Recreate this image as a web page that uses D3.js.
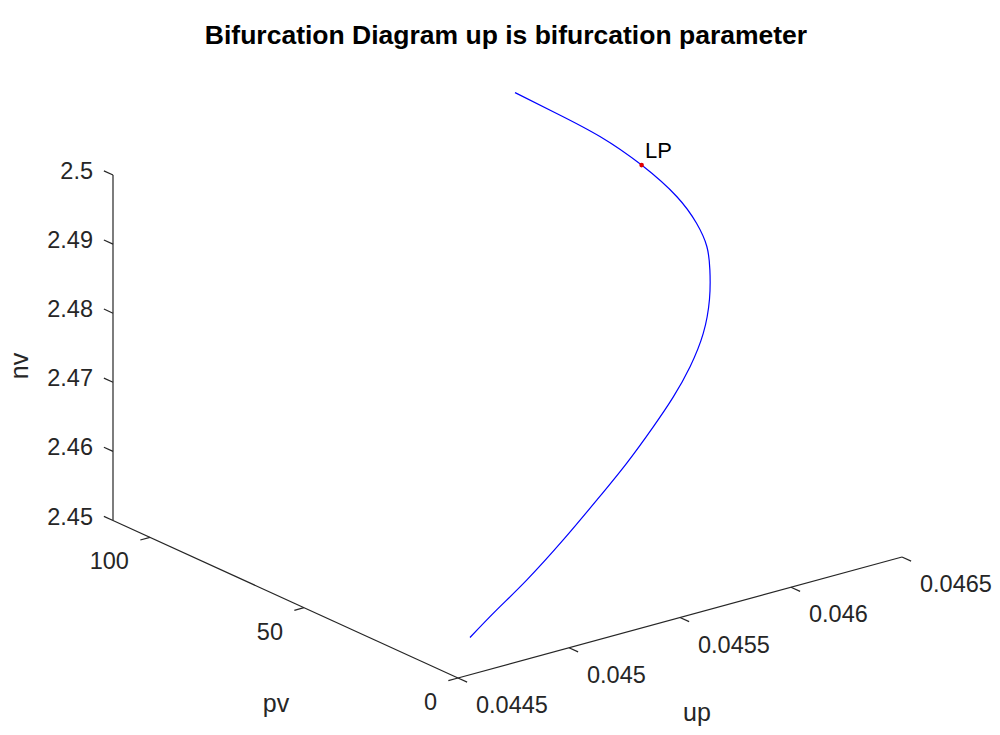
<!DOCTYPE html>
<html>
<head>
<meta charset="utf-8">
<script src="https://cdn.jsdelivr.net/npm/d3@7"></script>
<style>
  html, body { margin: 0; padding: 0; background: #fff; }
  svg { display: block; }
  text { font-family: "Liberation Sans", Arial, Helvetica, sans-serif; }
</style>
</head>
<body>
<svg id="chart" width="1000" height="735"></svg>
<script>
// ---- data ----
const titleText = "Bifurcation Diagram up is bifurcation parameter";
const upTicks = [0.0445, 0.045, 0.0455, 0.046, 0.0465];
const upTickLabels = ["0.0445", "0.045", "0.0455", "0.046", "0.0465"];
const pvTicks = [0, 50, 100];
const pvTickLabels = ["0", "50", "100"];
const nvTicks = [2.45, 2.46, 2.47, 2.48, 2.49, 2.5];
const nvTickLabels = ["2.45", "2.46", "2.47", "2.48", "2.49", "2.5"];
const upLimits = [0.0445, 0.0465];
const pvLimits = [0, 112];
const nvLimits = [2.45, 2.5];

// equilibrium curve (bottom end -> top end)
const upValues = [0.04460, 0.04478, 0.044974, 0.04521, 0.045424, 0.045606, 0.045768, 0.045888,
  0.045996, 0.046102, 0.046192, 0.046264, 0.046314, 0.046364, 0.046416, 0.04646,
  0.046434, 0.046354, 0.04622];
const pvValues = [3.32, 7.62, 11.87, 17.02, 21.5, 24.98, 28.0, 30.13, 32.48, 35.84, 40.3,
  45.36, 49.95, 56.9, 67.09, 81.65, 93.3, 101.58, 105.45];
const nvValues = [2.45431, 2.45585, 2.4576, 2.4603, 2.4633, 2.4663, 2.46955, 2.4724, 2.47535,
  2.47855, 2.4818, 2.48435, 2.4864, 2.4879, 2.48925, 2.49045, 2.49245, 2.4948, 2.4982];

// special point (limit point)
const lpLabel = "LP";
const lpUp = [0.04646];
const lpPv = [81.65];
const lpNv = [2.49045];

// ---- 3D projection built from d3 scales ----
const origin = [458, 678];     // screen position of (up min, pv min, nv min)
const upVec = [444, -121];     // screen vector spanning the up range
const pvVec = [-345, -157.5];  // screen vector spanning the pv range
const nvVec = [0, -345.5];     // screen vector spanning the nv range

const su = d3.scaleLinear().domain(upLimits).range([0, 1]);
const sp = d3.scaleLinear().domain(pvLimits).range([0, 1]);
const sn = d3.scaleLinear().domain(nvLimits).range([0, 1]);

function proj(u, p, n) {
  const a = su(u), b = sp(p), c = sn(n);
  return [origin[0] + a * upVec[0] + b * pvVec[0] + c * nvVec[0],
          origin[1] + a * upVec[1] + b * pvVec[1] + c * nvVec[1]];
}
function unit(v) { const l = Math.hypot(v[0], v[1]); return [v[0] / l, v[1] / l]; }

const svg = d3.select("#chart");
const axisColor = "#262626";
const tickLen = 10;
const tickFont = "23.5px";

const g = svg.append("g");

// axis lines
const axLines = [
  [proj(upLimits[0], pvLimits[0], nvLimits[0]), proj(upLimits[1], pvLimits[0], nvLimits[0])],
  [proj(upLimits[0], pvLimits[0], nvLimits[0]), proj(upLimits[0], pvLimits[1], nvLimits[0])],
  [proj(upLimits[0], pvLimits[1], nvLimits[0]), proj(upLimits[0], pvLimits[1], nvLimits[1])]
];
g.selectAll("line.axis").data(axLines).join("line")
  .attr("class", "axis")
  .attr("x1", d => d[0][0]).attr("y1", d => d[0][1])
  .attr("x2", d => d[1][0]).attr("y2", d => d[1][1])
  .attr("stroke", axisColor).attr("stroke-width", 1.2);

// up axis ticks (pointing away along -pv)
const pvDir = unit(pvVec), upDir = unit(upVec);
const upTickData = upTicks.map((t, i) => ({ p: proj(t, pvLimits[0], nvLimits[0]), label: upTickLabels[i] }));
g.selectAll("line.uptick").data(upTickData).join("line")
  .attr("x1", d => d.p[0]).attr("y1", d => d.p[1])
  .attr("x2", d => d.p[0] - pvDir[0] * tickLen).attr("y2", d => d.p[1] - pvDir[1] * tickLen)
  .attr("stroke", axisColor).attr("stroke-width", 1.2);
g.selectAll("text.uplab").data(upTickData).join("text")
  .attr("x", d => d.p[0] + 18).attr("y", d => d.p[1] + 27)
  .attr("text-anchor", "start").attr("dominant-baseline", "central")
  .attr("font-size", tickFont).attr("fill", axisColor)
  .text(d => d.label);

// pv axis ticks (pointing away along -up)
const pvTickData = pvTicks.map((t, i) => ({ p: proj(upLimits[0], t, nvLimits[0]), label: pvTickLabels[i] }));
g.selectAll("line.pvtick").data(pvTickData).join("line")
  .attr("x1", d => d.p[0]).attr("y1", d => d.p[1])
  .attr("x2", d => d.p[0] - upDir[0] * tickLen).attr("y2", d => d.p[1] - upDir[1] * tickLen)
  .attr("stroke", axisColor).attr("stroke-width", 1.2);
g.selectAll("text.pvlab").data(pvTickData).join("text")
  .attr("x", d => d.p[0] - 21).attr("y", d => d.p[1] + 24)
  .attr("text-anchor", "end").attr("dominant-baseline", "central")
  .attr("font-size", tickFont).attr("fill", axisColor)
  .text(d => d.label);

// nv axis ticks (pointing along +pv)
const nvTickData = nvTicks.map((t, i) => ({ p: proj(upLimits[0], pvLimits[1], t), label: nvTickLabels[i] }));
g.selectAll("line.nvtick").data(nvTickData).join("line")
  .attr("x1", d => d.p[0]).attr("y1", d => d.p[1])
  .attr("x2", d => d.p[0] + pvDir[0] * tickLen).attr("y2", d => d.p[1] + pvDir[1] * tickLen)
  .attr("stroke", axisColor).attr("stroke-width", 1.2);
g.selectAll("text.nvlab").data(nvTickData).join("text")
  .attr("x", d => d.p[0] - 20).attr("y", d => d.p[1] - 4)
  .attr("text-anchor", "end").attr("dominant-baseline", "central")
  .attr("font-size", tickFont).attr("fill", axisColor)
  .text(d => d.label);

// axis labels
g.append("text").attr("x", 276).attr("y", 703)
  .attr("text-anchor", "middle").attr("dominant-baseline", "central")
  .attr("font-size", "25px").attr("fill", axisColor).text("pv");
g.append("text").attr("x", 697).attr("y", 712)
  .attr("text-anchor", "middle").attr("dominant-baseline", "central")
  .attr("font-size", "25px").attr("fill", axisColor).text("up");
g.append("text").attr("transform", "translate(19,366) rotate(-90)")
  .attr("text-anchor", "middle").attr("dominant-baseline", "central")
  .attr("font-size", "25px").attr("fill", axisColor).text("nv");

// title
svg.append("text").attr("x", 506).attr("y", 35)
  .attr("text-anchor", "middle").attr("dominant-baseline", "central")
  .attr("font-size", "26.5px").attr("font-weight", "bold").attr("fill", "#000")
  .text(titleText);

// curve
const pts = upValues.map((u, i) => proj(u, pvValues[i], nvValues[i]));
const line = d3.line().x(d => d[0]).y(d => d[1]).curve(d3.curveNatural);
svg.append("path").attr("d", line(pts))
  .attr("fill", "none").attr("stroke", "#0000ff").attr("stroke-width", 1.2);

// LP marker
const lpPts = lpUp.map((u, i) => proj(u, lpPv[i], lpNv[i]));
svg.selectAll("circle.lp").data(lpPts).join("circle")
  .attr("cx", d => d[0]).attr("cy", d => d[1]).attr("r", 2.3)
  .attr("fill", "#e00000");
svg.selectAll("text.lp").data(lpPts).join("text")
  .attr("x", d => d[0] + 3.5).attr("y", d => d[1] - 15)
  .attr("dominant-baseline", "central")
  .attr("font-size", "22px").attr("fill", "#000").text(lpLabel);
</script>
</body>
</html>
